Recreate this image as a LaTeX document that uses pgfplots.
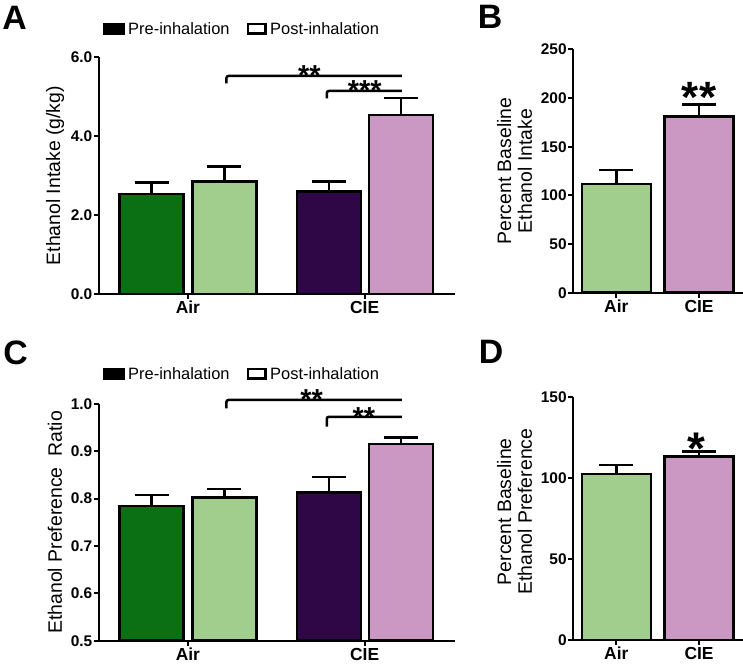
\documentclass[border=0pt]{standalone}
\usepackage{fontspec}
\setmainfont{Liberation Sans}
\usepackage{pgfplots}
\pgfplotsset{compat=1.18}

\definecolor{dkgreen}{HTML}{0B6F14}
\definecolor{ltgreen}{HTML}{A1CD8D}
\definecolor{dkpurple}{HTML}{2F0746}
\definecolor{lilac}{HTML}{CB98C3}

\tikzset{
  star/.style={font=\fontsize{#1}{#1}\selectfont\bfseries, anchor=base, inner sep=0, yshift=-0.58*#1 bp},
  brk/.style={line width=2.5bp, rounded corners=2bp},
}
\pgfplotsset{
  panel/.style={
    scale only axis,
    anchor=south west,
    axis x line*=bottom,
    axis y line*=left,
    axis line style={line width=2bp, black},
    every tick/.style={black, line width=2bp},
    tick align=outside,
    major tick length=5bp,
    minor tick num=0,
    clip mode=individual,
    axis on top,
    yticklabel style={font=\fontsize{15.5}{16}\selectfont\bfseries, inner sep=1.5bp},
    xticklabel style={font=\fontsize{17.5}{18}\selectfont\bfseries, inner sep=2bp},
    ylabel style={font=\fontsize{19.5}{21}\selectfont, anchor=center, align=center},
  },
  bar/.style={
    ybar, draw=black, line width=2.5bp, mark=none,
    error bars/y dir=plus, error bars/y explicit,
    error bars/error bar style={line width=2.5bp, black},
    error bars/error mark options={rotate=90, mark size=17bp, line width=2.5bp, black},
  },
}

\begin{document}
\begin{tikzpicture}
\path[use as bounding box] (0,0) rectangle (743bp,664bp);

% ---------------- Panel A ----------------
\begin{axis}[panel, at={(99bp,370bp)}, width=356bp, height=236.7bp,
  xmin=-0.722, xmax=4.172, ymin=0, ymax=6,
  ytick={0,2,4,6}, yticklabels={0.0,2.0,4.0,6.0},
  xtick={0.5,2.93}, xticklabels={Air,CIE},
  ylabel={Ethanol Intake (g/kg)},
  ylabel style={at={(axis description cs:-0.1236,0.5)}},
]
\addplot[bar, fill=dkgreen,  bar width=0.88] coordinates {(0,2.53) +- (0,0.30)};
\addplot[bar, fill=ltgreen,  bar width=0.88] coordinates {(1,2.85) +- (0,0.38)};
\addplot[bar, fill=dkpurple, bar width=0.88] coordinates {(2.44,2.60) +- (0,0.25)};
\addplot[bar, fill=lilac,    bar width=0.88] coordinates {(3.43,4.54) +- (0,0.43)};
\draw[brk] (axis cs:1.03,5.34) -- (axis cs:1.03,5.526) -- (axis cs:3.44,5.526);
\draw[brk] (axis cs:2.41,4.96) -- (axis cs:2.41,5.146) -- (axis cs:3.44,5.146);
\node[star=29] at (axis cs:2.17,5.716) {**};
\node[star=29] at (axis cs:2.93,5.323) {***};
\end{axis}

% ---------------- Panel B ----------------
\begin{axis}[panel, at={(573.3bp,371.3bp)}, width=169.4bp, height=243.3bp,
  xmin=-0.52, xmax=1.528, ymin=0, ymax=250,
  ytick={0,50,100,150,200,250}, yticklabels={0,50,100,150,200,250},
  xtick={0,1}, xticklabels={Air,CIE},
  ylabel={Percent Baseline\\Ethanol Intake},
  ylabel style={at={(axis description cs:-0.347,0.5)}},
]
\addplot[bar, fill=ltgreen, bar width=0.834] coordinates {(0,111.7) +- (0,14.4)};
\addplot[bar, fill=lilac,   bar width=0.834] coordinates {(1,180.9) +- (0,12.7)};
\node[star=44] at (axis cs:1,210.9) {**};
\end{axis}

% ---------------- Panel C ----------------
\begin{axis}[panel, at={(99bp,23.3bp)}, width=356bp, height=236.7bp,
  xmin=-0.722, xmax=4.172, ymin=0.5, ymax=1.0,
  ytick={0.5,0.6,0.7,0.8,0.9,1.0}, yticklabels={0.5,0.6,0.7,0.8,0.9,1.0},
  xtick={0.5,2.93}, xticklabels={Air,CIE},
  ylabel={Ethanol Preference~ Ratio},
  ylabel style={at={(axis description cs:-0.1236,0.5)}},
]
\addplot[bar, fill=dkgreen,  bar width=0.88] coordinates {(0,0.785) +- (0,0.023)};
\addplot[bar, fill=ltgreen,  bar width=0.88] coordinates {(1,0.803) +- (0,0.017)};
\addplot[bar, fill=dkpurple, bar width=0.88] coordinates {(2.44,0.813) +- (0,0.033)};
\addplot[bar, fill=lilac,    bar width=0.88] coordinates {(3.43,0.915) +- (0,0.014)};
\draw[brk] (axis cs:1.03,0.991) -- (axis cs:1.03,1.0085) -- (axis cs:3.44,1.0085);
\draw[brk] (axis cs:2.41,0.952) -- (axis cs:2.41,0.973) -- (axis cs:3.44,0.973);
\node[star=29] at (axis cs:2.2,1.0232) {**};
\node[star=29] at (axis cs:2.92,0.9854) {**};
\end{axis}

% ---------------- Panel D ----------------
\begin{axis}[panel, at={(573.3bp,24bp)}, width=169.4bp, height=243.3bp,
  xmin=-0.52, xmax=1.528, ymin=0, ymax=150,
  ytick={0,50,100,150}, yticklabels={0,50,100,150},
  xtick={0,1}, xticklabels={Air,CIE},
  ylabel={Percent Baseline\\Ethanol Preference},
  ylabel style={at={(axis description cs:-0.347,0.527)}},
]
\addplot[bar, fill=ltgreen, bar width=0.834] coordinates {(0,102.3) +- (0,5.6)};
\addplot[bar, fill=lilac,   bar width=0.834] coordinates {(1,113.0) +- (0,3.1)};
\node[star=46] at (axis cs:0.97,124.8) {*};
\end{axis}

% ---------------- legends and panel letters ----------------
\fill[black] (103.3bp,629bp) rectangle (125bp,641.3bp);
\node[anchor=west, inner sep=0, font=\fontsize{16.5}{17}\selectfont] at (128bp,635bp) {Pre-inhalation};
\draw[line width=2.5bp, fill=white] (248bp,630.3bp) rectangle (265.5bp,640bp);
\node[anchor=west, inner sep=0, font=\fontsize{16.5}{17}\selectfont] at (270bp,635bp) {Post-inhalation};

\fill[black] (103.3bp,284bp) rectangle (125bp,296.3bp);
\node[anchor=west, inner sep=0, font=\fontsize{16.5}{17}\selectfont] at (128bp,290bp) {Pre-inhalation};
\draw[line width=2.5bp, fill=white] (248bp,285.3bp) rectangle (265.5bp,295bp);
\node[anchor=west, inner sep=0, font=\fontsize{16.5}{17}\selectfont] at (270bp,290bp) {Post-inhalation};

\node[font=\fontsize{34}{34}\selectfont\bfseries, inner sep=0] at (14.5bp,646.5bp) {A};
\node[font=\fontsize{34}{34}\selectfont\bfseries, inner sep=0] at (490bp,647.5bp) {B};
\node[font=\fontsize{34}{34}\selectfont\bfseries, inner sep=0] at (15.5bp,311.5bp) {C};
\node[font=\fontsize{34}{34}\selectfont\bfseries, inner sep=0] at (491bp,312.5bp) {D};
\end{tikzpicture}
\end{document}
